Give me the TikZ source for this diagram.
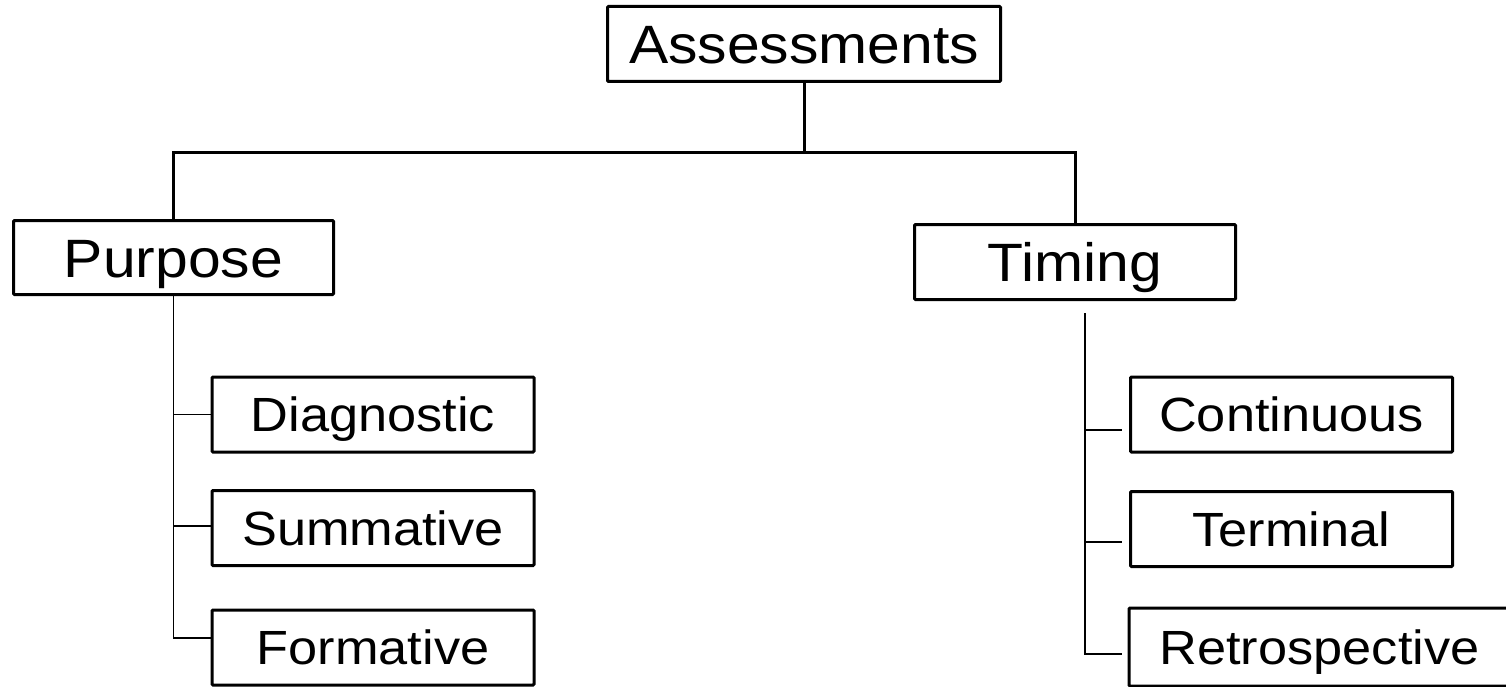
\documentclass[tikz,border=0pt]{standalone}
\usepackage{fontspec}
\usepackage{graphicx}
\setmainfont{Liberation Sans}
\usetikzlibrary{calc}
\newcommand{\widetxt}[1]{\scalebox{1.09}[1]{#1}}
\tikzset{
  topbox/.style={draw=black, line width=3pt, rounded corners=1pt, inner sep=0pt,
    font=\fontsize{54}{60}\selectfont, text height=39pt, text depth=0pt},
  subbox/.style={draw=black, line width=3pt, rounded corners=1pt, inner sep=0pt,
    minimum width=322pt, minimum height=75pt,
    font=\fontsize{48}{56}\selectfont, text height=34.5pt, text depth=0pt},
  thick link/.style={line width=3pt},
  thin link/.style={line width=1.6pt},
}
\begin{document}
\begin{tikzpicture}[x=1pt,y=-1pt]
\useasboundingbox (0,0) rectangle (1506,687);
% top
\node[topbox, minimum width=393pt, minimum height=75pt] (A) at (804,44) {\widetxt{Assessments}};
\node[topbox, minimum width=320pt, minimum height=74pt] (P) at (173.5,257.5) {\widetxt{Purpose}};
\node[topbox, minimum width=321pt, minimum height=75pt] (T) at (1075,262) {\widetxt{Timing}};
% left children
\node[subbox] (D) at (373,414.5) {\widetxt{Diagnostic}};
\node[subbox] (S) at (373,528) {\widetxt{Summative}};
\node[subbox] (F) at (373,647.5) {\widetxt{Formative}};
% right children
\node[subbox] (C) at (1291.5,414.5) {\widetxt{Continuous}};
\node[subbox] (Te) at (1291.5,529) {\widetxt{Terminal}};
\node[subbox, draw=none, minimum width=378pt] (R) at (1319.5,647) {\widetxt{Retrospective}};
\draw[line width=3pt, rounded corners=1pt] ([xshift=6pt]R.north east) -- (R.north west) -- (R.south west) -- ([xshift=6pt]R.south east);
% connectors top
\coordinate (bar) at (804,153);
\draw[thick link] (A.south) -- (bar) -| (P.north);
\draw[thick link] (bar) -| (T.north);
% left branch
\draw[thin link] (P.south) |- ([yshift=9.5pt]F.west);
\draw[thin link] (P.south |- D.west) -- (D.west);
\draw[thin link] ([yshift=2pt]P.south |- S.west) -- ([yshift=2pt]S.west);
% right branch
\coordinate (ts) at (1085,313);
\coordinate (cE) at ([xshift=-7pt,yshift=-15.5pt]C.west);
\coordinate (tE) at ([xshift=-7pt,yshift=-13pt]Te.west);
\coordinate (rE) at ([xshift=-7pt,yshift=-7pt]R.west);
\draw[thin link] (ts) |- (rE);
\draw[thin link] (ts |- cE) -- (cE);
\draw[thin link] (ts |- tE) -- (tE);
\end{tikzpicture}
\end{document}
